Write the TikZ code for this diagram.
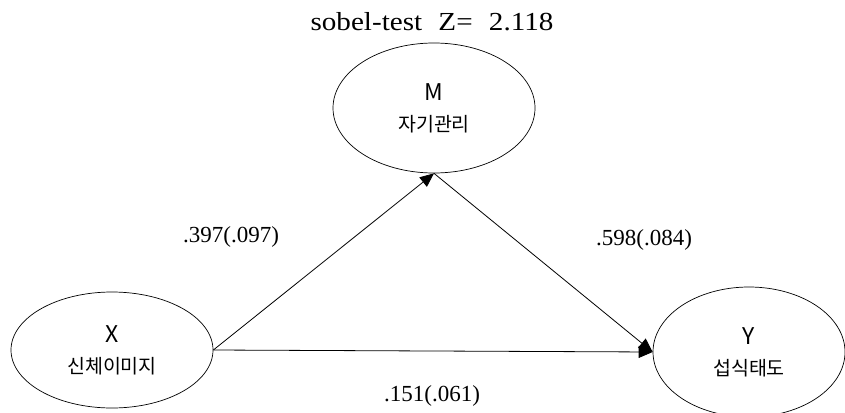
\documentclass[tikz,border=0pt]{standalone}
\usepackage{fontspec}
\setmainfont{Liberation Serif}
\newfontfamily\kr{Noto Sans CJK KR}
\newfontfamily\wideserif[FakeStretch=1.12]{Liberation Serif}
\usetikzlibrary{shapes.geometric,arrows.meta}
\newcommand{\bigletter}[1]{{\fontsize{23pt}{31pt}\selectfont #1}}
\begin{document}
\begin{tikzpicture}[x=1pt,y=-1pt,
  var/.style={draw,line width=0.7pt,ellipse,inner sep=0pt,align=center,
    font=\kr\fontsize{19.5pt}{31pt}\selectfont},
  path/.style={line width=0.8pt,-{Triangle[length=14pt,width=12pt]}},
  coef/.style={font=\fontsize{23pt}{25pt}\selectfont}]
\useasboundingbox (0,0) rectangle (845,412);
\node[var,minimum width=202pt,minimum height=130pt] (M) at (434,108) {\bigletter{M}\\자기관리};
\node[var,minimum width=202pt,minimum height=116pt] (X) at (112,350) {\bigletter{X}\\신체이미지};
\node[var,minimum width=192pt,minimum height=130pt] (Y) at (749,352) {\bigletter{Y}\\섭식태도};
\node[font=\wideserif\fontsize{26pt}{28pt}\selectfont] (T) at (432,22) {sobel-test\hspace{9pt} Z=\hspace{9pt} 2.118};
\draw[path] (X.east) -- (Y.west);
\draw[path] (X.east) -- (M.south);
\draw[path] (M.south) -- (Y.west);
\node[coef] (a) at (231,237) {.397(.097)};
\node[coef] (b) at (644,240) {.598(.084)};
\node[coef] (c) at (432,396) {.151(.061)};
\end{tikzpicture}
\end{document}
